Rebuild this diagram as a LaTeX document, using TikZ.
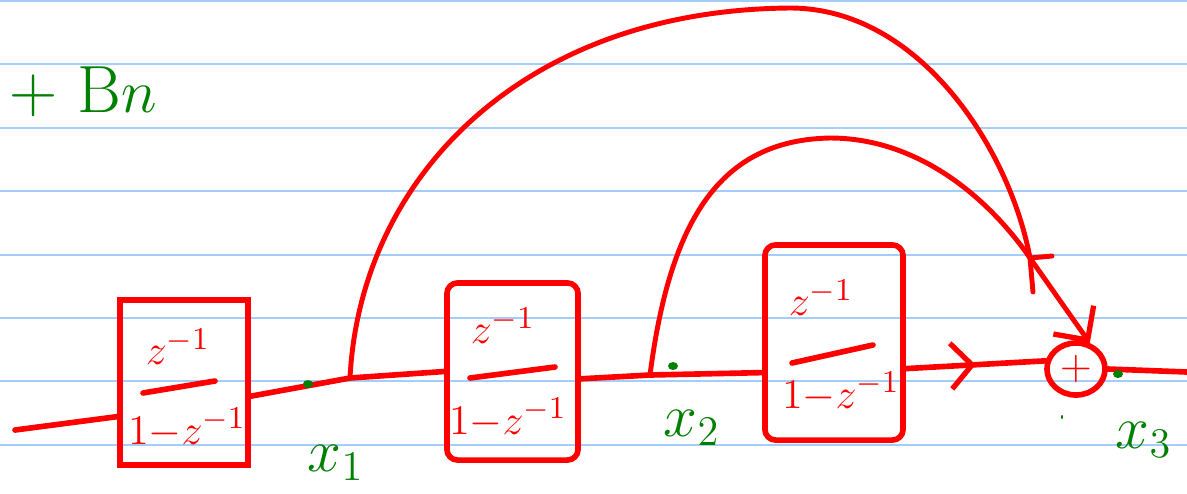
\documentclass[tikz,border=0pt]{standalone}
\usetikzlibrary{shapes.geometric,arrows.meta,decorations.markings,calc}
\definecolor{ink}{RGB}{255,0,0}
\definecolor{pen}{RGB}{0,128,0}
\definecolor{ruling}{RGB}{165,205,250}
\begin{document}
\begin{tikzpicture}[x=0.01cm,y=-0.01cm,
  sig/.style={draw=ink, line width=1.6pt, line cap=round, line join=round},
  arc/.style={draw=ink, line width=1.4pt, line cap=round},
  blk/.style={draw=ink, line width=1.6pt, inner sep=0pt},
  blkr/.style={blk, rounded corners=3pt},
  frac/.style={text=ink, inner sep=0pt, font=\fontsize{13}{15}\selectfont},
  lab/.style={text=pen, inner sep=0pt, font=\fontsize{18}{20}\selectfont},
  dot/.style={ellipse, fill=pen, minimum width=0.1cm, minimum height=0.08cm, inner sep=0pt},
  barb/.style={-{Straight Barb[length=7pt,width=14pt,line width=1.5pt]}},
  midarrow/.style={postaction={decorate}, decoration={markings,
     mark=at position 0.5 with {\arrow{Straight Barb[length=6pt,width=13pt,line width=1.5pt]}}}}
]
\useasboundingbox (0,0) rectangle (1187,493);
\fill[white] (0,0) rectangle (1187,493);
% ruled paper
\foreach \k in {0,...,7} {
  \draw[ruling, line width=0.6pt] (0,{1+63.4*\k}) -- (1187,{1+63.4*\k});
}
% title
\node[lab, font=\fontsize{19}{21}\selectfont] (title) at (83,92) {+ B$n$};

% blocks
\node[blk, minimum width=1.28cm, minimum height=1.65cm] (box1) at (184,382.5) {};
\node[blkr, minimum width=1.31cm, minimum height=1.77cm] (box2) at (512.5,371.5) {};
\node[blkr, minimum width=1.38cm, minimum height=1.95cm] (box3) at (834,342.5) {};

\node[frac] (n1) at (178,347) {$z^{-1}$};
\node[frac] (d1) at (187,428) {$1{-}z^{-1}$};
\draw[sig] (143,393) -- (215,381);
\node[frac] (n2) at (503,326) {$z^{-1}$};
\node[frac] (d2) at (508,418) {$1{-}z^{-1}$};
\draw[sig] (470,378) -- (555,367);
\node[frac] (n3) at (821,298) {$z^{-1}$};
\node[frac] (d3) at (841,392) {$1{-}z^{-1}$};
\draw[sig] (792,363) -- (873,345);

% adder
\node[ellipse, draw=ink, line width=1.6pt, minimum width=0.58cm, minimum height=0.52cm,
      inner sep=0pt, text=ink, font=\fontsize{12}{14}\selectfont] (add) at (1076,369) {$+$};

% coordinates
\coordinate (in) at (15,430);
\coordinate (t1) at (350,378);
\coordinate (t2) at (650,375);
\coordinate (m) at (1030,258);
\coordinate (out) at (1187,372);

% signal chain
\draw[sig] (in) -- ($(box1.south west)!0.3!(box1.north west)$);
\draw[sig] ($(box1.south east)!0.42!(box1.north east)$) -- (t1) -- (box2.west);
\draw[sig] ($(box2.south east)!0.46!(box2.north east)$) -- (t2) -- ($(box3.south west)!0.35!(box3.north west)$);
\draw[sig, midarrow] ($(box3.south east)!0.37!(box3.north east)$) -- (add.165);
\draw[sig] (add.east) -- (out);

% feed-forward arcs
\draw[arc] (t1) .. controls (360,180) and (520,10) .. (790,8)
           .. controls (920,8) and (1010,150) .. (m);
\draw[arc] (m) -- ++(22,-2);
\draw[arc] (m) -- ++(3,34);
\draw[arc, barb] (t2) .. controls (670,220) and (720,140) .. (830,138)
           .. controls (920,138) and (990,200) .. (m) -- (add.62);

% taps
\node[dot] (d1dot) at (308,384) {};
\node[dot] (d2dot) at (673,366) {};
\node[dot] (d3dot) at (1118,374) {};
\node[ellipse, fill=pen, minimum width=0.02cm, minimum height=0.04cm, inner sep=0pt] (speck) at (1062,417) {};

% labels
\node[lab] (x1) at (336,463) {$x_1$};
\node[lab] (x2) at (692,428) {$x_2$};
\node[lab] (x3) at (1144,440) {$x_3$};
\end{tikzpicture}
\end{document}
